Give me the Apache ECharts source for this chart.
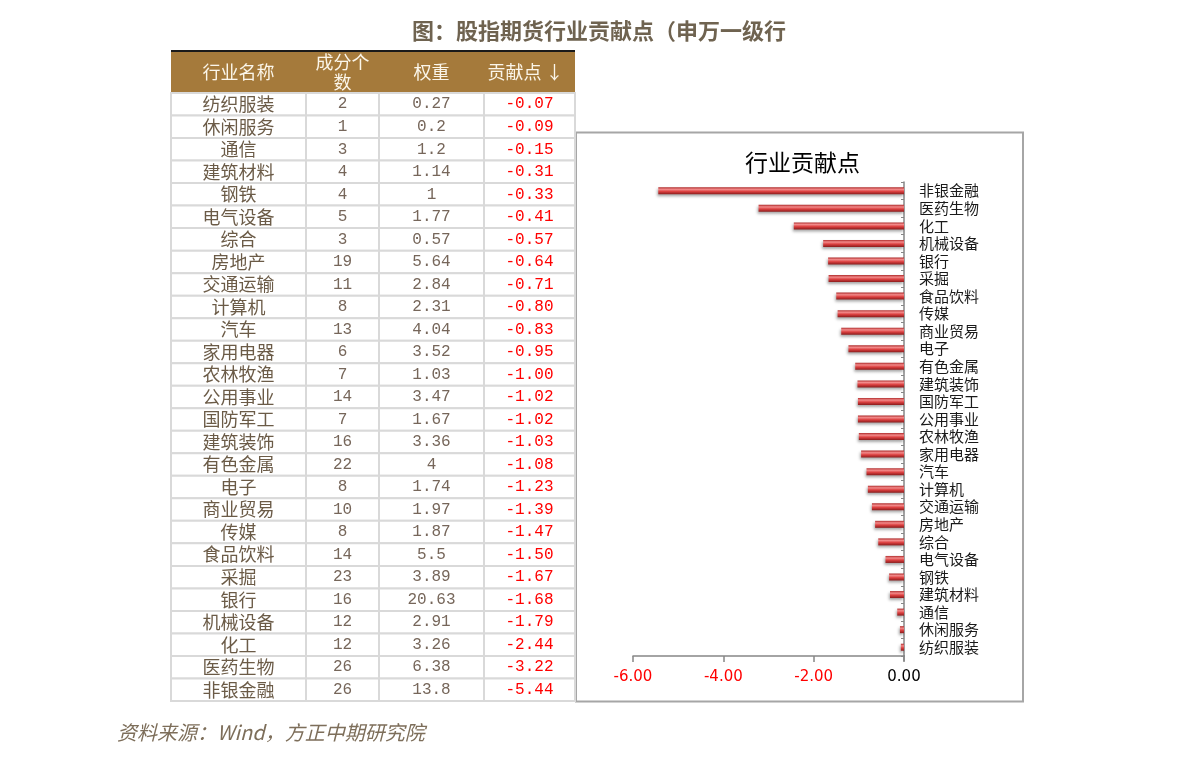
<!DOCTYPE html>
<html>
<head>
<meta charset="utf-8">
<script src="https://cdn.jsdelivr.net/npm/echarts@6/dist/echarts.min.js"></script>
<style>
  html, body { margin: 0; padding: 0; background: #fff; }
  #main { width: 1191px; height: 767px; }
</style>
</head>
<body>
<div id="main"></div>
<script>
// ---- data ----
const industries = ['纺织服装','休闲服务','通信','建筑材料','钢铁','电气设备','综合','房地产','交通运输','计算机','汽车','家用电器','农林牧渔','公用事业','国防军工','建筑装饰','有色金属','电子','商业贸易','传媒','食品饮料','采掘','银行','机械设备','化工','医药生物','非银金融'];
const memberCounts = [2,1,3,4,4,5,3,19,11,8,13,6,7,14,7,16,22,8,10,8,14,23,16,12,12,26,26];
const weights = [0.27,0.2,1.2,1.14,1,1.77,0.57,5.64,2.84,2.31,4.04,3.52,1.03,3.47,1.67,3.36,4,1.74,1.97,1.87,5.5,3.89,20.63,2.91,3.26,6.38,13.8];
const contributions = [-0.07,-0.09,-0.15,-0.31,-0.33,-0.41,-0.57,-0.64,-0.71,-0.80,-0.83,-0.95,-1.00,-1.02,-1.02,-1.03,-1.08,-1.23,-1.39,-1.47,-1.50,-1.67,-1.68,-1.79,-2.44,-3.22,-5.44];
const tableHeaders = ['行业名称','成分个\n数','权重','贡献点 ↓'];
const mainTitle = '图：股指期货行业贡献点（申万一级行';
const chartTitle = '行业贡献点';
const sourceNote = '资料来源：Wind，方正中期研究院';

// ---- layout (not data) ----
const COL_EDGES = [0, 135, 208, 313, 404];
const TABLE_LEFT = 171, TABLE_TOP = 93, TABLE_W = 404, TABLE_H = 608;
const CJK = '"Noto Sans CJK SC", "Noto Sans", sans-serif';

const chart = echarts.init(document.getElementById('main'));

function cellColor(c) {
  if (c === 3) return '#ff0000';
  if (c === 0) return '#6b5b47';
  return '#76665a';
}
function cellFont(c) {
  if (c === 0) return 'normal 18px ' + CJK;
  return 'normal 16px "Liberation Mono", "DejaVu Sans Mono", monospace';
}

function renderTableRow(params, api) {
  const row = api.value(1);
  const i = params.dataIndex;
  const h = api.size([0, 1])[1];
  const cells = [industries[i], String(memberCounts[i]), String(weights[i]), contributions[i].toFixed(2)];
  const children = [];
  for (let c = 0; c < 4; c++) {
    const p0 = api.coord([COL_EDGES[c], row]);
    const p1 = api.coord([COL_EDGES[c + 1], row]);
    children.push({
      type: 'rect',
      shape: { x: p0[0], y: p0[1] - h / 2, width: p1[0] - p0[0], height: h },
      style: { fill: '#ffffff', stroke: '#d9d9d9', lineWidth: 2 }
    });
    children.push({
      type: 'text',
      style: {
        x: (p0[0] + p1[0]) / 2, y: p0[1],
        text: cells[c], align: 'center', verticalAlign: 'middle',
        fill: cellColor(c), font: cellFont(c)
      }
    });
  }
  return { type: 'group', children };
}

const headerCenters = [];
for (let c = 0; c < 4; c++) headerCenters.push(TABLE_LEFT + (COL_EDGES[c] + COL_EDGES[c + 1]) / 2);

const graphics = [
  { type: 'rect', shape: { x: TABLE_LEFT, y: 50, width: TABLE_W, height: 2 }, style: { fill: '#1a1a1a' } },
  { type: 'rect', shape: { x: TABLE_LEFT, y: 52, width: TABLE_W, height: 40 }, style: { fill: '#a57a3b' } },
  { type: 'rect', shape: { x: 576, y: 132.5, width: 447, height: 569 }, style: { fill: 'none', stroke: '#a6a6a6', lineWidth: 2 } },
  { type: 'line', shape: { x1: 904, y1: 655, x2: 904, y2: 661 }, style: { stroke: '#868686', lineWidth: 1.5 } },
  { type: 'text', left: 117, top: 722, style: { text: sourceNote, fill: '#7d6e5a', font: 'italic 20px ' + CJK } }
];
tableHeaders.forEach((t, c) => {
  graphics.push({
    type: 'text',
    style: {
      x: headerCenters[c] - (c === 3 ? 4 : 0), y: 72,
      text: t, align: 'center', verticalAlign: 'middle',
      fill: '#fbf6ea', font: 'normal 18px ' + CJK, lineHeight: 20
    }
  });
});

const option = {
  backgroundColor: '#ffffff',
  animation: false,
  title: [
    { text: mainTitle, left: 407, top: 15, textStyle: { color: '#6f6350', fontSize: 22, fontWeight: 'bold', fontFamily: CJK } },
    { text: chartTitle, left: 740, top: 146, textStyle: { color: '#000000', fontSize: 23, fontWeight: 'normal', fontFamily: CJK } }
  ],
  graphic: graphics,
  grid: [
    { left: TABLE_LEFT, top: TABLE_TOP, width: TABLE_W, height: TABLE_H },
    { left: 633, top: 182, width: 271, height: 474 }
  ],
  xAxis: [
    { gridIndex: 0, type: 'value', min: 0, max: TABLE_W, show: false },
    {
      gridIndex: 1, type: 'value', min: -6, max: 0, interval: 2, position: 'bottom',
      axisLine: { show: true, onZero: false, lineStyle: { color: '#868686', width: 1.5 } },
      axisTick: { show: true, length: 6, lineStyle: { color: '#868686', width: 1.5 } },
      splitLine: { show: false },
      axisLabel: {
        margin: 14, fontSize: 15, fontFamily: '"DejaVu Sans", sans-serif',
        formatter: v => v.toFixed(2),
        color: v => (v < 0 ? '#ff0000' : '#000000')
      }
    }
  ],
  yAxis: [
    { gridIndex: 0, type: 'category', data: industries, inverse: true, show: false },
    {
      gridIndex: 1, type: 'category', data: industries, position: 'right',
      axisLine: { show: true, onZero: false, lineStyle: { color: '#868686', width: 1.5 } },
      axisTick: { show: true, length: 3, inside: true, interval: 0, lineStyle: { color: '#868686' } },
      axisLabel: { interval: 0, margin: 15, fontSize: 15, color: '#1a1a1a', fontFamily: CJK },
      splitLine: { show: false }
    }
  ],
  series: [
    {
      type: 'custom', xAxisIndex: 0, yAxisIndex: 0,
      data: industries.map((n, i) => [0, i]),
      encode: { x: 0, y: 1 },
      renderItem: renderTableRow,
      clip: false, silent: true
    },
    {
      type: 'bar', xAxisIndex: 1, yAxisIndex: 1,
      data: contributions, barWidth: 7,
      itemStyle: {
        color: new echarts.graphic.LinearGradient(0, 0, 0, 1, [
          { offset: 0, color: '#b02c2c' },
          { offset: 0.3, color: '#f28a8a' },
          { offset: 0.6, color: '#dc4040' },
          { offset: 1, color: '#8a1c1c' }
        ]),
        shadowColor: 'rgba(0,0,0,0.35)', shadowBlur: 3, shadowOffsetY: 2, shadowOffsetX: -1
      }
    }
  ]
};
chart.setOption(option);
</script>
</body>
</html>
